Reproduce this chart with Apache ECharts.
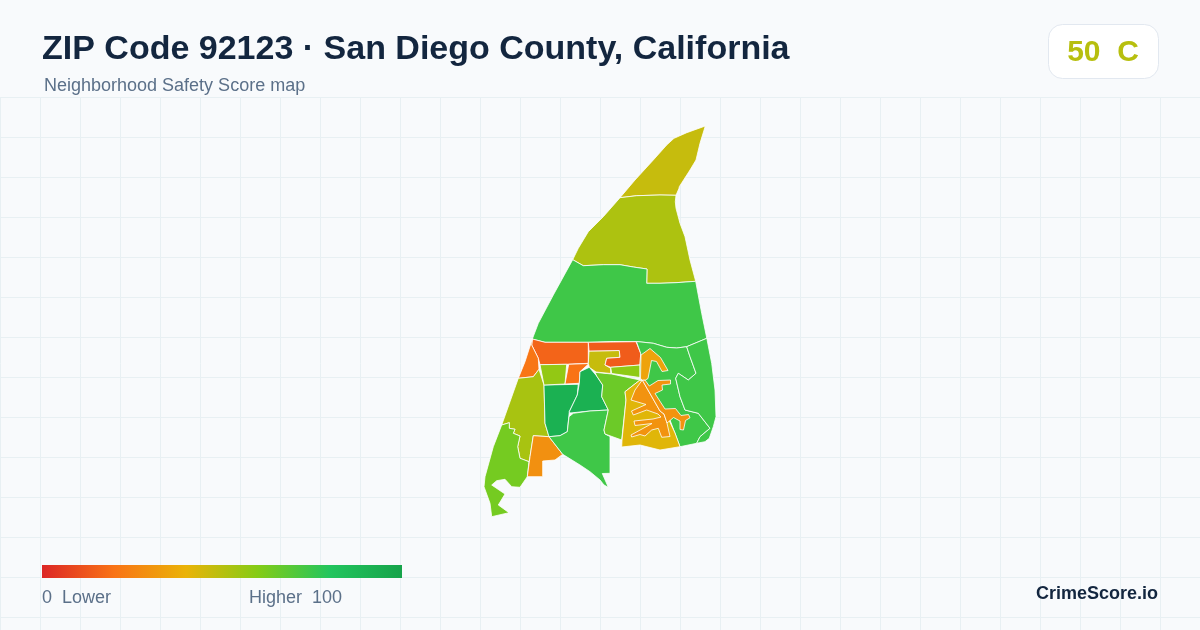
<!DOCTYPE html>
<html>
<head>
<meta charset="utf-8">
<style>
  html, body { margin: 0; padding: 0; background: #f8fafc; }
  #chart { width: 1200px; height: 630px; }
</style>
<script src="https://cdn.jsdelivr.net/npm/echarts@6/dist/echarts.min.js"></script>
</head>
<body>
<div id="chart"></div>
<script>
// Neighborhood outlines (x, y in page units, y grows downward)
var ringNorth = [[705.3,126],[686.7,132.7],[674,138.3],[666.7,145],[653.3,160],[635,180],[620,197.7],[636.7,195.7],[660,195],[676,195.3],[679,188.3],[679.3,186.7],[690,170],[696,160],[700,143.3]];
var ringUpper = [[620,197.7],[636.7,195.7],[660,195],[676,195.3],[675.3,201.7],[676,208.3],[680,223.3],[685,236.7],[690,260],[695.7,281.3],[676,282.7],[660,283.3],[646.7,283.3],[647,269],[633.3,267],[620,264.7],[603.3,264.7],[583.3,265.7],[572.7,259.7],[578.3,248.3],[588.3,231.7],[603.3,216.7]];
var ringWide = [[572.7,259.7],[583.3,265.7],[603.3,264.7],[620,264.7],[633.3,267],[647,269],[646.7,283.3],[660,283.3],[676,282.7],[695.7,281.3],[697.3,290],[701.7,313.3],[706.8,338.3],[686.7,346.7],[676.7,348],[666.7,347.3],[653.3,343.3],[636.4,341.5],[613.3,341.5],[588.3,342.3],[545,342.3],[532.3,339],[538.3,323.3],[553.3,295]];
var ringRedWest = [[532.3,339],[545,342.3],[588.3,342.3],[588.3,363.3],[566.7,364.3],[540,364.7],[538.3,358.3],[531.7,345]];
var ringOrangeWedge = [[532.3,339],[531.7,345],[538.3,358.3],[539,369.3],[533.3,376.7],[518.3,378.3],[525,361.7]];
var ringOlive = [[518.3,378.3],[533.3,376.7],[539,369.3],[544,385],[545,423.3],[549,436.7],[533.3,435.7],[530,456.7],[529,461.7],[520,458.3],[517.7,446.7],[520,436],[513.3,433.3],[515,429.3],[509.3,428.3],[509.3,422.7],[501.7,425]];
var ringSouthwest = [[501.7,425],[509.3,422.7],[509.3,428.3],[515,429.3],[513.3,433.3],[520,436],[517.7,446.7],[520,458.3],[529,461.7],[527.3,476.7],[520,487.3],[511.7,486.7],[505,479.3],[496.7,480.7],[491.7,485],[505,494],[498.3,505],[509,512.7],[491.7,516.7],[490,503.3],[484,486.7],[485,476.7],[493.3,446.7]];
var ringOrangeSouth = [[533.3,435.7],[549,436.7],[562.7,454.3],[555,460],[542.7,461],[542.7,476.7],[527.3,476.7],[530,456.7]];
var ringDarkWest = [[544,385],[578.3,384.3],[577.3,395],[569.3,411.7],[567.3,431.7],[560,435.7],[549,436.7],[545,423.3]];
var ringLime = [[540,364.7],[566.7,364.3],[565,384],[544,385]];
var ringOrangeBlock = [[568.7,364.3],[589,363.5],[580,371.7],[579.3,383.3],[565,384]];
var ringDarkCentre = [[580,371.7],[589.3,367.3],[596.7,376],[602.7,385],[601.7,396.7],[608.3,410],[590,411],[570,413],[569.3,411.7],[577.3,395],[579.3,383.3]];
var ringSouthCentre = [[573.3,413.3],[590,411],[608.3,410],[604,430],[605,434],[610,436.5],[610,473.3],[602.3,473.5],[608.3,487.3],[604,485],[600,480],[590,471.7],[580,465],[562.7,454.3],[549,436.7],[560,435.7],[567.3,431.7],[569,416.7]];
var ringCentre = [[595,372.3],[611.7,374],[640,380],[625,391.7],[626,400],[621.7,440],[605,434],[604,430],[608.3,410],[601.7,396.7],[602.7,385],[596.7,376]];
var ringGold = [[589,351],[619.3,350.5],[620,357.3],[606.7,358.3],[605,365],[610.7,368.3],[610.7,373.5],[596,372],[589.3,367.3],[588.3,363.3]];
var ringRedEast = [[588.3,342.3],[636,341.7],[640.7,353.3],[640,365],[610.7,367.3],[605,365],[606.7,358.3],[620,357.3],[619.3,350.5],[589,351]];
var ringLimeEast = [[610.7,367.3],[640,365],[640,377.5],[611.7,373.5]];
var ringEastInner = [[636.4,341.5],[653.3,343.3],[666.7,347.3],[676.7,348],[686.7,346.7],[690,356.7],[696,373.3],[688.3,380],[678.3,373.3],[675.7,378.3],[680,396.7],[685,410],[698.3,413.3],[710,428.3],[700,436.7],[696.7,443.3],[680,446.7],[670,420],[655,400],[645,384],[640,377.5],[640,365],[640.7,353.3]];
var ringEastOuter = [[686.7,346.7],[706.8,338.3],[711.7,363.3],[715,390],[716,416.7],[713.3,426.7],[709.3,438.3],[705,441.7],[696.7,443.3],[700,436.7],[710,428.3],[698.3,413.3],[685,410],[680,396.7],[675.7,378.3],[678.3,373.3],[688.3,380],[696,373.3],[690,356.7]];
var ringGoldSouth = [[640,380],[625,391.7],[626,400],[622,440],[621.7,447],[640,445],[660,450],[680,446.7],[675,433],[668,418],[655,400],[645,384]];
var ringStreetsWest = [[642.3,380],[660,411],[664,414],[666.7,421.7],[670,436.5],[661.7,437.3],[658.3,428.3],[651.7,430],[645,436],[640,434.5],[631.7,437],[631,435],[652,423.5],[635,425.5],[634,421],[653,419],[661,417],[658,414],[646.7,410],[633.3,415],[631.5,411],[646,404.5],[631,400],[635,390]];
var ringStreetsEast = [[642.3,380],[645,380],[649.3,386],[658,380.5],[670.5,380],[670.5,384],[662,385],[662.5,390],[655,393.5],[665,409],[675.5,408.5],[681,415.5],[688.5,414.5],[690,417.8],[685.5,420.5],[683.5,430],[680,429.5],[680,421],[673.5,417.5],[667,423],[664,414],[660,411]];
var ringHook = [[641,355],[650,348.5],[660.5,357.5],[668,370.5],[662,371.5],[656.5,361.5],[651.5,360.5],[648,378.5],[645.5,380],[642.3,380],[640.5,378.5]];

var regionRings = [ringNorth, ringUpper, ringWide, ringRedWest, ringOrangeWedge, ringOlive, ringSouthwest, ringOrangeSouth, ringDarkWest, ringLime, ringOrangeBlock, ringDarkCentre, ringSouthCentre, ringCentre, ringGold, ringRedEast, ringLimeEast, ringEastInner, ringEastOuter, ringGoldSouth, ringStreetsWest, ringStreetsEast, ringHook];
var regionNames = ['North', 'Upper', 'Wide', 'Red West', 'Orange Wedge', 'Olive', 'Southwest', 'Orange South', 'Dark West', 'Lime', 'Orange Block', 'Dark Centre', 'South Centre', 'Centre', 'Gold', 'Red East', 'Lime East', 'East Inner', 'East Outer', 'Gold South', 'Streets West', 'Streets East', 'Hook'];
var regionScores = [47, 52, 74, 16, 21, 53, 63, 29, 92, 57, 20, 92, 74, 65, 47, 14, 58, 74, 74, 42, 30, 30, 35];
var scaleColors = ['#dc2626', '#f97316', '#eab308', '#84cc16', '#22c55e', '#16a34a'];

var TITLE = 'ZIP Code 92123 · San Diego County, California';
var SUBTITLE = 'Neighborhood Safety Score map';
var SCORE_TEXT = '50  C';
var LOW_TEXT = '0  Lower';
var HIGH_TEXT = 'Higher  100';
var BRAND = 'CrimeScore.io';
var FONT = '"Liberation Sans", Arial, sans-serif';

var xs = [];
var ys = [];
regionRings.forEach(function(ring) {
  ring.forEach(function(p) { xs.push(p[0]); ys.push(p[1]); });
});
var minX = Math.min.apply(null, xs);
var maxX = Math.max.apply(null, xs);
var minY = Math.min.apply(null, ys);
var maxY = Math.max.apply(null, ys);

echarts.registerMap('zip92123', {
  type: 'FeatureCollection',
  features: regionRings.map(function(ring, i) {
    return {
      type: 'Feature',
      properties: { name: regionNames[i] },
      geometry: { type: 'Polygon', coordinates: [ring.concat([ring[0]])] }
    };
  })
});

var chart = echarts.init(document.getElementById('chart'));

// legend bar: the library's visualMap bar has round corners, the original is square
var legendStops = scaleColors.map(function(color, i) {
  return { offset: i / (scaleColors.length - 1), color: color };
});

chart.setOption({
  animation: false,
  backgroundColor: '#f8fafc',
  title: [
    { text: TITLE, left: 42, top: 33, padding: 0, textStyle: { fontFamily: FONT, fontSize: 34, fontWeight: 'bold', color: '#13263f' } },
    { text: SUBTITLE, left: 44, top: 77, padding: 0, textStyle: { fontFamily: FONT, fontSize: 18, fontWeight: 'normal', color: '#5b7089' } }
  ],
  grid: { left: 0, right: 0, top: 97, bottom: 0 },
  xAxis: {
    type: 'value', min: 0, max: 1200, interval: 40,
    axisLine: { show: false }, axisTick: { show: false }, axisLabel: { show: false },
    splitLine: { show: true, lineStyle: { color: '#e8f0f3', width: 1 } }
  },
  yAxis: {
    type: 'value', min: 0, max: 533, interval: 40, inverse: true,
    axisLine: { show: false }, axisTick: { show: false }, axisLabel: { show: false },
    splitLine: { show: true, lineStyle: { color: '#e8f0f3', width: 1 } }
  },
  visualMap: {
    type: 'continuous', min: 0, max: 100, show: false,
    seriesIndex: 0,
    inRange: { color: scaleColors }
  },
  series: [{
    type: 'map',
    map: 'zip92123',
    silent: true,
    roam: false,
    selectedMode: false,
    projection: {
      project: function(p) { return [p[0], p[1]]; },
      unproject: function(p) { return [p[0], p[1]]; }
    },
    left: minX,
    top: minY,
    width: maxX - minX,
    height: maxY - minY,
    label: { show: false },
    itemStyle: { borderColor: '#ffffff', borderWidth: 0.8 },
    emphasis: { disabled: true },
    data: regionNames.map(function(name, i) { return { name: name, value: regionScores[i] }; })
  }],
  graphic: [
    { type: 'rect', z: 100, shape: { x: 42, y: 565, width: 360, height: 13 }, style: { fill: new echarts.graphic.LinearGradient(0, 0, 1, 0, legendStops) } },
    { type: 'rect', z: 100, shape: { x: 1048.5, y: 24.5, width: 110, height: 54, r: 14 }, style: { fill: '#ffffff', stroke: '#e2e8f0', lineWidth: 1 } },
    { type: 'text', z: 101, x: 1103, y: 53, style: { text: SCORE_TEXT, fill: '#b7bf0f', font: 'bold 30px ' + FONT, textAlign: 'center', textVerticalAlign: 'middle' } },
    { type: 'text', z: 101, x: 42, y: 598.5, style: { text: LOW_TEXT, fill: '#5b7089', font: '18px ' + FONT, textAlign: 'left', textVerticalAlign: 'middle' } },
    { type: 'text', z: 101, x: 342, y: 598.5, style: { text: HIGH_TEXT, fill: '#5b7089', font: '18px ' + FONT, textAlign: 'right', textVerticalAlign: 'middle' } },
    { type: 'text', z: 101, x: 1158, y: 594, style: { text: BRAND, fill: '#13263f', font: 'bold 18px ' + FONT, textAlign: 'right', textVerticalAlign: 'middle' } }
  ]
});
</script>
</body>
</html>
